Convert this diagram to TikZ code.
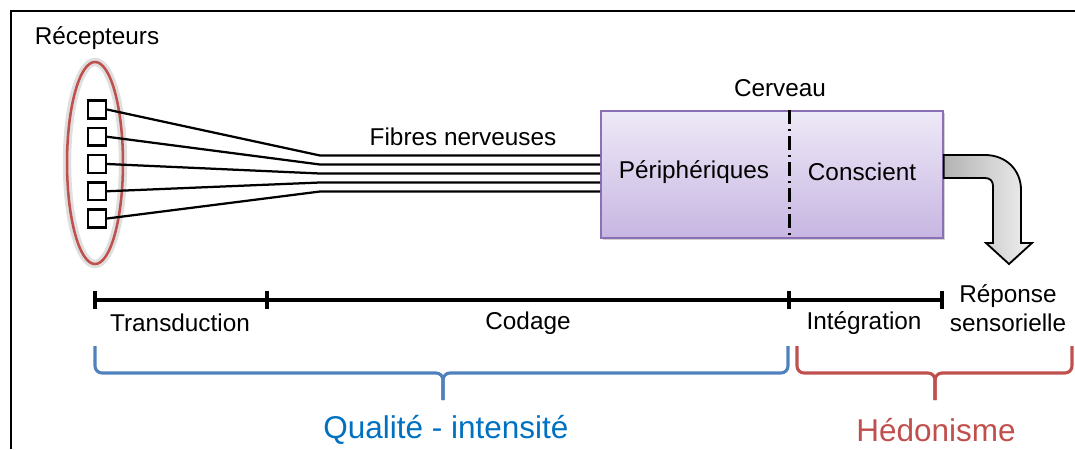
\documentclass[tikz,border=0pt]{standalone}
\usepackage{fontspec}
\setmainfont{Liberation Sans}
\usetikzlibrary{shapes.geometric,shadows}
\definecolor{rouge}{RGB}{192,80,77}
\definecolor{bleu}{RGB}{79,129,189}
\definecolor{bleutexte}{RGB}{0,112,192}
\definecolor{mauvehaut}{RGB}{238,233,247}
\definecolor{mauvebas}{RGB}{199,182,226}
\definecolor{mauvebord}{RGB}{140,112,182}
\begin{document}
\begin{tikzpicture}[x=0.025cm, y=-0.025cm, font=\fontsize{17.3}{20.5}\selectfont,
        rec/.style={draw, line width=1.8pt, minimum size=12.6pt, inner sep=0pt},
        fibre/.style={line width=1.6pt},
        accolade/.style={line width=2.2pt, rounded corners=5pt},
        tick/.style={line width=2.3pt}]
        \useasboundingbox (0,0) rectangle (1075,449);
        \draw[line width=2pt] (11,449) -- (11,11) -- (1075,11);
        \node (recepteurs) at (97,38) {Récepteurs};
        \draw[gray!35, line width=6pt, opacity=.7] (95,163) ellipse (28 and 101);
        \node[ellipse, draw=rouge, line width=1.8pt, minimum width=39.8pt, minimum height=143.7pt] (groupe) at (95,163) {};
        \node[draw=mauvebord, line width=1pt, top color=mauvehaut, bottom color=mauvebas, minimum width=243.3pt, minimum height=90.3pt,
            drop shadow={opacity=.35, shadow xshift=1.5pt, shadow yshift=-1.5pt}] (cerveau) at (772,174.5) {};
        \foreach \i in {1,...,5} {
            \node[rec] (r\i) at (97,{109.5+27.25*(\i-1)}) {};
            \coordinate (c\i) at (320,{155.5+9*(\i-1)});
            \draw[fibre] (r\i.east) -- (c\i) -- (c\i -| cerveau.west);
        }
        \node (fibres) at (463,137) {Fibres nerveuses};
        \node (cerv) at (780,88) {Cerveau};
        \draw[line width=2.2pt, dash pattern=on 10pt off 3.5pt on 1.5pt off 3.5pt] (cerveau.north west) ++(189,0) -- ++(0,127);
        \node (periph) at (694,172) {Périphériques};
        \node (conscient) at (862,172) {Conscient};
        % fleche de sortie
        \draw[line width=1.3pt, left color=gray!60, right color=gray!12] (cerveau.east |- 0,155) -- (985,155) .. controls (1006,155) and (1021,170) .. (1021,190)
            -- (1021,243) -- (1032,243) -- (1009,264) -- (986,243) -- (993,243) -- (993,186) .. controls (993,181) and (990,178) .. (985,178)
            -- (cerveau.east |- 0,178) -- cycle;
        % axe
        \coordinate (t1) at (95,300);
        \coordinate (t2) at (267,300);
        \coordinate (t3) at (789,300);
        \coordinate (t4) at (942,300);
        \draw[tick] (t1) -- (t4);
        \foreach \t in {t1,t2,t3,t4}
            \draw[tick] (\t) ++(0,-9) -- ++(0,18);
        \node (transduction) at (180,323) {Transduction};
        \node (codage) at (528,323) {Codage};
        \node (integration) at (864,323) {Intégration};
        \node[align=center] (reponse) at (1008,308) {Réponse\\sensorielle};
        % accolades
        \draw[accolade, bleu] (95,346) -- (95,373) -- (443,373) -- (443,400);
        \draw[accolade, bleu] (788,346) -- (788,373) -- (443,373) -- (443,400);
        \draw[accolade, rouge] (797,346) -- (797,373) -- (935,373) -- (935,400);
        \draw[accolade, rouge] (1072,346) -- (1072,373) -- (935,373) -- (935,400);
        \node[bleutexte, font=\fontsize{22.4}{26}\selectfont] (qualite) at (446,430) {Qualité - intensité};
        \node[rouge, font=\fontsize{22.4}{26}\selectfont] (hedonisme) at (936,430) {Hédonisme};
    \end{tikzpicture}
\end{document}
